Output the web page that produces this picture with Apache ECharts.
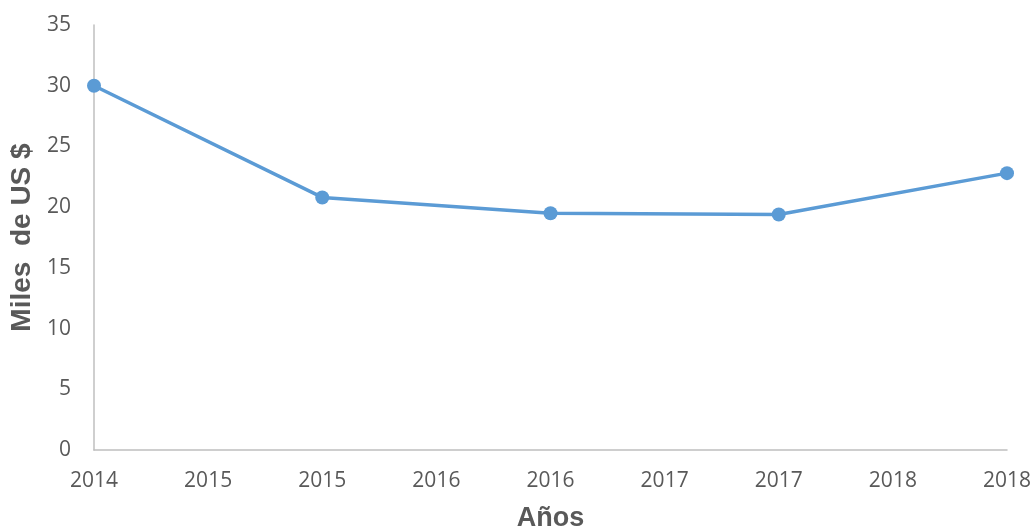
<!DOCTYPE html>
<html>
<head>
<meta charset="utf-8">
<script src="https://cdn.jsdelivr.net/npm/echarts@6/dist/echarts.min.js"></script>
<style>html,body{margin:0;padding:0;background:#fff;}#c{width:1036px;height:531px;}</style>
</head>
<body>
<div id="c"></div>
<script>
var years = [2014, 2015, 2016, 2017, 2018];
var values = [30.0, 20.8, 19.5, 19.4, 22.8];
var yTicks = [0, 5, 10, 15, 20, 25, 30, 35];
var xAxisTitle = 'Años';
var yAxisTitle = 'Miles  de US $';

var chart = echarts.init(document.getElementById('c'), null, {renderer: 'canvas'});
var labelColor = '#595959';
chart.setOption({
  animation: false,
  backgroundColor: '#ffffff',
  grid: {left: 94, right: 29, top: 25, bottom: 81, containLabel: false, outerBoundsMode: 'none'},
  xAxis: {
    type: 'value',
    min: years[0], max: years[years.length - 1], interval: 0.5,
    name: xAxisTitle, nameLocation: 'middle', nameGap: 55,
    nameTextStyle: {color: labelColor, fontSize: 27, fontWeight: 'bold', fontFamily: 'Liberation Sans, Arial, sans-serif'},
    axisLine: {show: true, lineStyle: {color: '#BFBFBF', width: 1.5}},
    axisTick: {show: false},
    splitLine: {show: false},
    axisLabel: {color: labelColor, fontSize: 21, fontFamily: 'Open Sans, sans-serif', margin: 21,
      formatter: function (v) { return String(Math.round(v)); }}
  },
  yAxis: {
    type: 'value',
    min: yTicks[0], max: yTicks[yTicks.length - 1], interval: 5,
    name: yAxisTitle, nameLocation: 'middle', nameGap: 58, nameRotate: 90,
    nameTextStyle: {color: labelColor, fontSize: 28, fontWeight: 'bold', fontFamily: 'Liberation Sans, Arial, sans-serif'},
    axisLine: {show: true, lineStyle: {color: '#BFBFBF', width: 1.5}},
    axisTick: {show: false},
    splitLine: {show: false},
    axisLabel: {color: labelColor, fontSize: 21, fontFamily: 'Open Sans, sans-serif', margin: 23}
  },
  series: [{
    type: 'line',
    data: years.map(function (y, i) { return [y, values[i]]; }),
    symbol: 'circle', symbolSize: 14,
    lineStyle: {color: '#5B9BD5', width: 3.5},
    itemStyle: {color: '#5B9BD5'}
  }]
});
</script>
</body>
</html>
